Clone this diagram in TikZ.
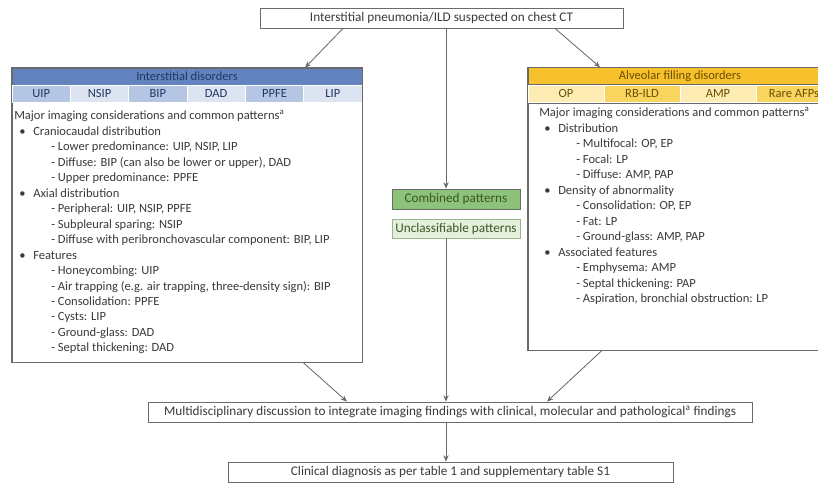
\documentclass[tikz,border=0pt]{standalone}
\usepackage{fontspec}
\setmainfont{Carlito}
\usepackage{xcolor}
\usetikzlibrary{arrows.meta}

\definecolor{linegray}{HTML}{6A6A6A}
\definecolor{txtgray}{HTML}{3A3A3A}
\definecolor{ildhead}{HTML}{6383BE}
\definecolor{ildtext}{HTML}{203864}
\definecolor{ildmid}{HTML}{B4C6E4}
\definecolor{ildlight}{HTML}{DCE4F2}
\definecolor{afhead}{HTML}{F6C12A}
\definecolor{aftext}{HTML}{6B4E00}
\definecolor{afmid}{HTML}{F9D45E}
\definecolor{aflight}{HTML}{FDEDB5}
\definecolor{cmbfill}{HTML}{8DC27A}
\definecolor{cmbtext}{HTML}{385723}
\definecolor{uncfill}{HTML}{E4F0DC}
\definecolor{uncline}{HTML}{9AB68A}

% one bullet line and one dash line of the body text
\newcommand{\catline}[1]{\hspace*{3.6pt}\makebox[9.9pt][l]{\textbullet}#1}
\newcommand{\subline}[1]{\hspace*{26.3pt}- #1}

\begin{document}
\begin{tikzpicture}[x=0.025cm,y=-0.025cm,
  every node/.style={font=\fontsize{8.9}{11}\selectfont,text=txtgray},
  flowbox/.style={draw=linegray,line width=.6pt,fill=white,inner sep=0pt,minimum height=.5cm,font=\fontsize{9.4}{11}\selectfont},
  headbox/.style={draw=linegray,line width=.5pt,inner sep=0pt,minimum height=.425cm},
  tabbox/.style={draw=white,line width=.5pt,inner sep=0pt,minimum height=.425cm},
  bodybox/.style={draw=linegray,line width=.6pt,fill=white,inner sep=0pt},
  bodytext/.style={anchor=north west,align=left,inner sep=0pt},
  link/.style={draw=linegray,line width=.6pt,-{Stealth[length=4.5pt,width=3.8pt]}}]
\useasboundingbox (0,0) rectangle (818,491);
\clip (0,0) rectangle (818,491);

\coordinate (spine) at (446,0);

% top and bottom of the flow
\node[flowbox,minimum width=9.075cm] (ct) at (441.5,18) {Interstitial pneumonia/ILD suspected on chest CT};
\node[flowbox,minimum width=15.1cm] (mdt) at (450,412) {Multidisciplinary discussion to integrate imaging findings with clinical, molecular and pathological\textsuperscript{a} findings};
\node[flowbox,minimum width=11.125cm] (dx) at (450.5,472) {Clinical diagnosis as per table 1 and supplementary table S1};

% interstitial disorders
\node[bodybox,minimum width=8.75cm,minimum height=6.5cm] (lbody) at (187,232) {};
\node[headbox,fill=ildhead,text=ildtext,minimum width=8.75cm] (lhead) at (187,76.5) {Interstitial disorders};
\foreach \lbl/\col [count=\i] in {UIP/ildmid,NSIP/ildlight,BIP/ildmid,DAD/ildlight,PPFE/ildmid,LIP/ildlight}
  \node[tabbox,fill=\col,text=ildtext,minimum width=1.4583cm] (ltab\i) at ({12+29.17+58.33*(\i-1)},93.5) {\lbl};
\draw[linegray,line width=.6pt] (lhead.north west) rectangle (lbody.south east);
\node[bodytext] (ltxt) at (14,110) {Major imaging considerations and common patterns\textsuperscript{a}\\
\catline{Craniocaudal distribution}\\
\subline{Lower predominance: UIP, NSIP, LIP}\\
\subline{Diffuse: BIP (can also be lower or upper), DAD}\\
\subline{Upper predominance: PPFE}\\
\catline{Axial distribution}\\
\subline{Peripheral: UIP, NSIP, PPFE}\\
\subline{Subpleural sparing: NSIP}\\
\subline{Diffuse with peribronchovascular component: BIP, LIP}\\
\catline{Features}\\
\subline{Honeycombing: UIP}\\
\subline{Air trapping (e.g. air trapping, three-density sign): BIP}\\
\subline{Consolidation: PPFE}\\
\subline{Cysts: LIP}\\
\subline{Ground-glass: DAD}\\
\subline{Septal thickening: DAD}};

% alveolar filling disorders
\node[bodybox,minimum width=7.6cm,minimum height=6.175cm] (rbody) at (680,226.5) {};
\node[headbox,fill=afhead,text=aftext,minimum width=7.6cm] (rhead) at (680,76) {Alveolar filling disorders};
\foreach \lbl/\col [count=\i] in {OP/aflight,RB-ILD/afmid,AMP/aflight,Rare AFPs/afmid}
  \node[tabbox,fill=\col,text=aftext,minimum width=1.9cm] (rtab\i) at ({528+38+76*(\i-1)},93.5) {\lbl};
\draw[linegray,line width=.6pt] (rhead.north west) rectangle (rbody.south east);
\node[bodytext] (rtxt) at (539,107) {Major imaging considerations and common patterns\textsuperscript{a}\\
\catline{Distribution}\\
\subline{Multifocal: OP, EP}\\
\subline{Focal: LP}\\
\subline{Diffuse: AMP, PAP}\\
\catline{Density of abnormality}\\
\subline{Consolidation: OP, EP}\\
\subline{Fat: LP}\\
\subline{Ground-glass: AMP, PAP}\\
\catline{Associated features}\\
\subline{Emphysema: AMP}\\
\subline{Septal thickening: PAP}\\
\subline{Aspiration, bronchial obstruction: LP}};

% middle patterns
\node[flowbox,fill=cmbfill,text=cmbtext,minimum width=3.2cm] (cmb) at (456,199) {Combined patterns};
\node[flowbox,draw=uncline,fill=uncfill,text=cmbtext,minimum width=3.2cm,minimum height=.475cm] (unc) at (456,228.5) {Unclassifiable patterns};

% connectors
\draw[link] ([xshift=-2.4625cm]ct.south) -- ([xshift=2.95cm]lhead.north);
\draw[link] ([xshift=2.8375cm]ct.south) -- ([xshift=-2cm]rhead.north);
\draw[link] (ct.south -| spine) -- (cmb.north -| spine);
\draw[link] (unc.south -| spine) -- (mdt.north -| spine);
\draw[link] ([xshift=2.9cm]lbody.south) -- ([xshift=-2.575cm]mdt.north);
\draw[link] ([xshift=-1.95cm]rbody.south) -- ([xshift=2.425cm]mdt.north);
\draw[link] (mdt.south -| spine) -- (dx.north -| spine);
\end{tikzpicture}
\end{document}
